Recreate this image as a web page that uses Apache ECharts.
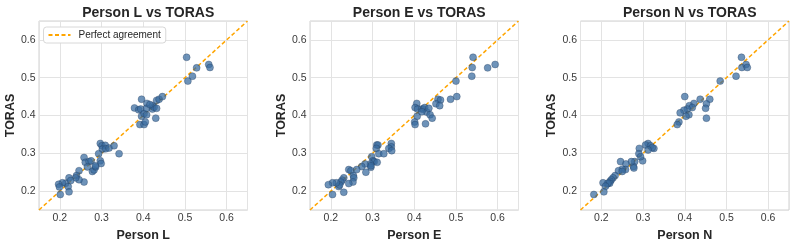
<!DOCTYPE html>
<html><head><meta charset="utf-8">
<script src="https://cdn.jsdelivr.net/npm/echarts@6/dist/echarts.min.js"></script>
<style>html,body{margin:0;padding:0;background:#fff}#c{width:793px;height:247px}</style>
</head><body><div id="c"></div>
<script>
const personNames = ['Person L', 'Person E', 'Person N'];
const axisRange = [0.15, 0.65];
const diagLine = [0.15, 0.65];

const personL_x = [0.504,0.507,0.518,0.528,0.557,0.560,
 0.379,0.389,0.396,0.394,0.392,0.402,0.405,0.396,0.402,0.408,0.409,0.408,0.422,0.422,0.426,0.432,0.432,0.430,0.438,0.446,0.416,
 0.297,0.301,0.309,0.302,0.310,0.318,0.330,0.342,0.293,0.297,0.299,
 0.258,0.261,0.270,0.275,0.266,0.278,0.282,0.286,0.285,0.246,0.258,0.240,0.246,0.238,0.222,0.214,0.206,0.197,0.199,0.220,0.222,0.201,0.226];
const personL_y = [0.554,0.491,0.504,0.526,0.535,0.527,
 0.420,0.415,0.443,0.417,0.376,0.376,0.383,0.398,0.405,0.402,0.432,0.419,0.426,0.417,0.422,0.440,0.419,0.393,0.443,0.450,0.429,
 0.326,0.320,0.321,0.311,0.312,0.314,0.320,0.299,0.299,0.280,0.273,
 0.289,0.276,0.278,0.280,0.264,0.252,0.256,0.264,0.267,0.254,0.224,0.241,0.230,0.235,0.235,0.221,0.222,0.218,0.211,0.212,0.198,0.191,0.228];

const personE_x = [0.541,0.539,0.538,0.576,0.594,0.500,0.502,0.487,0.457,0.463,0.452,0.461,
 0.406,0.402,0.408,0.407,0.401,0.402,0.418,0.422,0.425,0.430,0.435,0.438,0.443,0.427,0.418,
 0.310,0.313,0.309,0.345,0.345,0.339,0.346,0.315,0.327,0.298,0.301,0.304,0.311,0.295,0.296,0.296,0.282,0.274,0.284,
 0.243,0.248,0.262,0.254,0.255,0.253,0.243,0.231,0.227,0.224,0.219,0.221,0.213,0.204,0.194,0.204,0.231];
const personE_y = [0.554,0.527,0.504,0.526,0.535,0.491,0.450,0.443,0.443,0.441,0.431,0.426,
 0.432,0.421,0.417,0.398,0.383,0.376,0.417,0.417,0.421,0.409,0.419,0.402,0.393,0.378,0.410,
 0.322,0.322,0.313,0.326,0.317,0.313,0.307,0.299,0.299,0.291,0.280,0.278,0.276,0.272,0.263,0.267,0.272,0.265,0.250,
 0.257,0.254,0.257,0.241,0.235,0.224,0.220,0.235,0.229,0.224,0.212,0.216,0.222,0.222,0.217,0.191,0.197];

const personN_x = [0.536,0.537,0.547,0.550,0.523,0.485,0.460,0.437,0.452,0.450,0.452,
 0.400,0.422,0.411,0.418,0.406,0.398,0.410,0.403,0.389,0.386,0.382,
 0.312,0.306,0.318,0.326,0.322,0.312,0.291,0.290,0.299,0.294,0.280,0.277,0.278,0.272,0.246,0.259,0.258,
 0.250,0.241,0.250,0.233,0.228,0.224,0.221,0.220,0.214,0.216,0.204,0.210,0.206,0.182];
const personN_y = [0.554,0.527,0.535,0.527,0.504,0.491,0.443,0.443,0.431,0.419,0.393,
 0.450,0.432,0.426,0.421,0.417,0.414,0.402,0.398,0.407,0.383,0.376,
 0.326,0.322,0.320,0.313,0.315,0.309,0.313,0.299,0.280,0.291,0.278,0.265,0.261,0.278,0.278,0.272,0.257,
 0.258,0.254,0.252,0.241,0.235,0.230,0.226,0.221,0.219,0.221,0.222,0.213,0.198,0.191];

const xs = [personL_x, personE_x, personN_x];
const ys = [personL_y, personE_y, personN_y];

const gridLefts = [39, 310, 580.5];
const gridW = 208.5, gridTop = 21, gridH = 191.5;
const FONT = 'Liberation Sans';

const grids = [], xAxes = [], yAxes = [], series = [], titles = [];
for (let i = 0; i < 3; i++) {
  grids.push({left: gridLefts[i], top: gridTop, width: gridW, height: gridH, show: true, borderColor: '#d0d0d0', borderWidth: 1, backgroundColor: '#fff'});
  titles.push({text: personNames[i] + ' vs TORAS', left: gridLefts[i] + gridW / 2, top: 1, textAlign: 'center',
    textStyle: {fontFamily: FONT, fontWeight: 'bold', fontSize: 14, color: '#262626'}});
  const ax = {
    type: 'value', gridIndex: i, min: axisRange[0], max: axisRange[1],
    axisLine: {show: false}, axisTick: {show: false},
    splitLine: {show: true, lineStyle: {color: '#e3e3e3', width: 1}},
    nameLocation: 'middle',
    nameTextStyle: {fontFamily: FONT, fontWeight: 'bold', fontSize: 12.5, color: '#262626'}
  };
  const lbl = {fontFamily: FONT, fontSize: 10.5, color: '#3a3a3a', showMinLabel: false, showMaxLabel: false,
      formatter: v => v.toFixed(1)};
  xAxes.push(Object.assign({}, ax, {name: personNames[i], nameGap: 19, axisLabel: Object.assign({margin: 3}, lbl)}));
  yAxes.push(Object.assign({}, ax, {name: 'TORAS', nameGap: 22, axisLabel: Object.assign({margin: 3.5}, lbl)}));
  series.push({
    name: 'Perfect agreement', type: 'line', xAxisIndex: i, yAxisIndex: i,
    data: [[diagLine[0], diagLine[0]], [diagLine[1], diagLine[1]]],
    symbol: 'none', silent: true, z: 2,
    lineStyle: {color: '#FFA500', width: 1.5, type: [4, 2.5]},
    itemStyle: {color: '#FFA500'}
  });
  series.push({
    name: 'pts' + i, type: 'scatter', xAxisIndex: i, yAxisIndex: i,
    data: xs[i].map((v, k) => [v, ys[i][k]]),
    symbolSize: 7, z: 3,
    itemStyle: {color: 'rgba(58,108,160,0.92)', borderColor: 'rgba(30,55,85,0.8)', borderWidth: 0.5}
  });
}

const chart = echarts.init(document.getElementById('c'), null, {renderer: 'canvas'});
chart.setOption({
  animation: false,
  backgroundColor: '#fff',
  title: titles,
  grid: grids, xAxis: xAxes, yAxis: yAxes, series: series,
  legend: {
    data: ['Perfect agreement'], left: 43.5, top: 27,
    orient: 'horizontal', itemWidth: 22, itemHeight: 10, itemGap: 6,
    padding: [3, 5, 3, 4], borderColor: '#d8d8d8', borderWidth: 1, borderRadius: 3, backgroundColor: '#fff',
    itemStyle: {opacity: 0},
    textStyle: {fontFamily: FONT, fontSize: 10, color: '#262626', padding: [0, 0, 0, 3]}
  }
});
</script></body></html>
